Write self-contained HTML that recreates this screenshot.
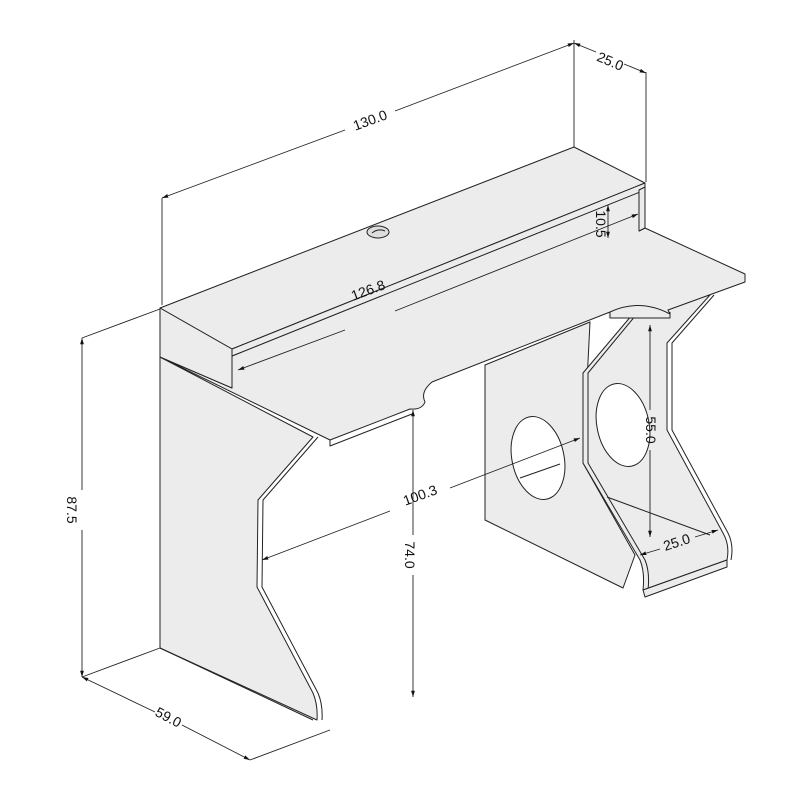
<!DOCTYPE html>
<html><head><meta charset="utf-8"><style>
html,body{margin:0;padding:0;background:#fff;}
svg{display:block;}
text{font-family:"Liberation Sans",sans-serif;font-size:14px;fill:#111;}
</style></head><body>
<svg width="800" height="800" viewBox="0 0 800 800" xmlns="http://www.w3.org/2000/svg">
<defs>
<marker id="a" viewBox="0 0 10 10" refX="10" refY="5" markerWidth="7" markerHeight="7" orient="auto-start-reverse"><path d="M0,2 L10,5 L0,8z" fill="#111"/></marker>
</defs>
<g stroke="#222" stroke-width="1" fill="#ececec" stroke-linejoin="round">
<!-- right pedestal back panel -->
<polygon points="485,365 590,322 583,463 635,555 623,588 485,520"/>
<ellipse cx="538" cy="458" rx="26" ry="42" transform="rotate(-12 538 458)" fill="#fff"/>
<path d="M520,478 L560,464" fill="none"/>
<!-- right side panel -->
<path d="M632,315 L583,373 L583,463 L640,560 Q645,572 643,590 L727,560 Q730,545 723,533 L667,430 L667,343 L710,295 Z"/>
<path d="M636,315 L588,373 L588,463 L645,560 Q650,572 648,590 M714,295 L672,343 L672,430 L728,533 Q734,545 731,560" fill="none"/>
<ellipse cx="623" cy="425" rx="26" ry="42" transform="rotate(-12 623 425)" fill="#fff"/>
<!-- bottom shelf -->
<polygon points="643,590 727,560 727,567 645,597" />
<path d="M607,497 L710,535" fill="none"/>
<!-- left pedestal -->
<path d="M160,357 L313,437 L258,500 L257,587 L313,693 Q318,705 317,720 L160,648 Z"/>
<path d="M318,437 L263,500 L262,587 L318,693 Q323,705 322,720" fill="none"/>
<line x1="160" y1="648" x2="313" y2="720"/>
<!-- notch underlay -->
<polygon points="608,300 672,300 672,318 608,318" stroke="none"/>
<!-- desk top -->
<path d="M160,357 L232,388 L232,356 L639,192 L639,231 L645,228 L745,274 L745,282 L668,310 L670,314 Q640,298 610,312 L432,382 Q420,392 425,402 Q422,410 410,409 L330,440 Z"/>
<path d="M330,440 L330,446 L412,414" fill="none"/>
<path d="M610,312 L610,318 L670,318 L670,312" fill="none"/>
<!-- shelf -->
<polygon points="160,308 574,147 645,183 232,349"/>
<polygon points="232,349 645,183 645,190 232,356"/>
<polygon points="160,308 232,349 232,388 160,357"/>
<polygon points="639,190 645,187 645,228 639,231"/>
<ellipse cx="378" cy="232" rx="11" ry="6" fill="#ddd"/>
<path d="M372,233 Q378,228 385,231" fill="none"/>
</g>
<!-- dimension lines -->
<g stroke="#222" stroke-width="0.9" fill="none">
<line x1="162" y1="198" x2="162" y2="305"/>
<line x1="574" y1="40" x2="574" y2="147"/>
<line x1="646" y1="72" x2="646" y2="182"/>
<line x1="162" y1="198" x2="345" y2="130" marker-start="url(#a)"/>
<line x1="395" y1="111" x2="574" y2="43" marker-end="url(#a)"/>
<line x1="574" y1="43" x2="596" y2="52" marker-start="url(#a)"/>
<line x1="624" y1="64" x2="646" y2="73" marker-end="url(#a)"/>
<line x1="82" y1="338" x2="160" y2="309"/>
<line x1="82" y1="338" x2="82" y2="490" marker-start="url(#a)"/>
<line x1="82" y1="530" x2="82" y2="677" marker-end="url(#a)"/>
<line x1="82" y1="677" x2="160" y2="648"/>
<line x1="82" y1="677" x2="155" y2="712" marker-start="url(#a)"/>
<line x1="182" y1="725" x2="250" y2="760" marker-end="url(#a)"/>
<line x1="250" y1="760" x2="330" y2="730"/>
<line x1="413" y1="410" x2="413" y2="535" marker-start="url(#a)"/>
<line x1="413" y1="575" x2="413" y2="697" marker-end="url(#a)"/>
<line x1="262" y1="560" x2="390" y2="511" marker-start="url(#a)"/>
<line x1="450" y1="488" x2="580" y2="438" marker-end="url(#a)"/>
<line x1="238" y1="370" x2="345" y2="330" marker-start="url(#a)"/>
<line x1="395" y1="311" x2="638" y2="214" marker-end="url(#a)"/>
<line x1="608" y1="205" x2="608" y2="238" marker-start="url(#a)" marker-end="url(#a)"/>
<line x1="650" y1="325" x2="650" y2="410" marker-start="url(#a)"/>
<line x1="650" y1="450" x2="650" y2="537" marker-end="url(#a)"/>
<line x1="640" y1="555" x2="660" y2="549" marker-start="url(#a)"/>
<line x1="695" y1="537" x2="718" y2="530" marker-end="url(#a)"/>
</g>
<g>
<text x="370" y="125" transform="rotate(-20 370 120)" text-anchor="middle">130.0</text>
<text x="610" y="66" transform="rotate(23 610 62)" text-anchor="middle">25.0</text>
<text x="72" y="515" transform="rotate(90 72 510)" text-anchor="middle">87.5</text>
<text x="168" y="722" transform="rotate(28 168 718)" text-anchor="middle">59.0</text>
<text x="410" y="560" transform="rotate(90 410 555)" text-anchor="middle">74.0</text>
<text x="420" y="500" transform="rotate(-20 420 495)" text-anchor="middle">100.3</text>
<text x="368" y="295" transform="rotate(-20 368 290)" text-anchor="middle">126.8</text>
<text x="651" y="435" transform="rotate(90 651 430)" text-anchor="middle">55.0</text>
<text x="600" y="228" transform="rotate(90 600 224)" text-anchor="middle">10.5</text>
<text x="677" y="547" transform="rotate(-18 677 543)" text-anchor="middle">25.0</text>
</g>
</svg>
</body></html>
